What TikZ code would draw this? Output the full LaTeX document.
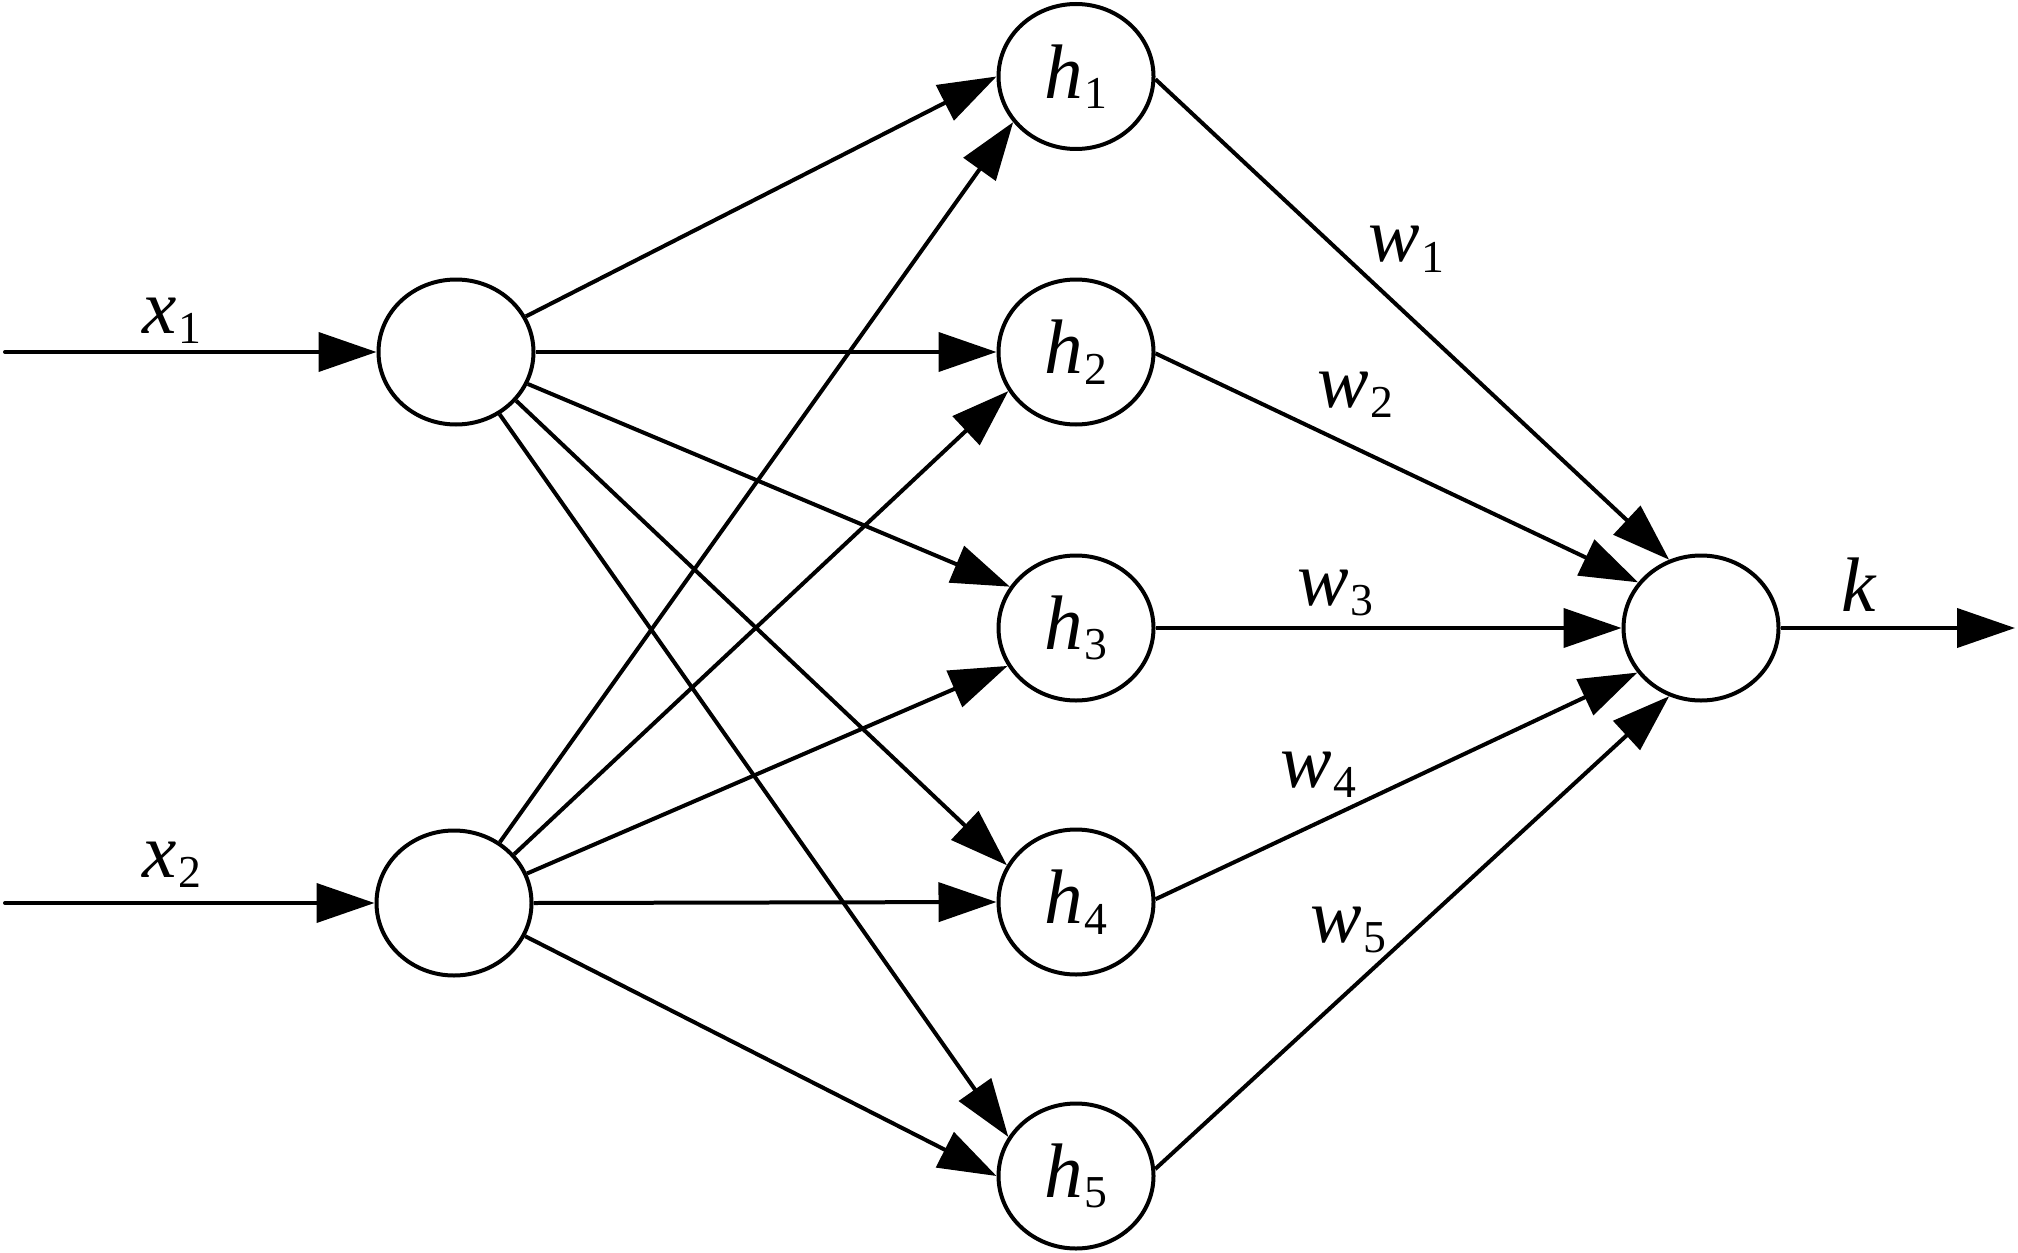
\documentclass[tikz,border=0pt]{standalone}
\usepackage{fontspec}
\setmainfont{Liberation Serif}
\usetikzlibrary{arrows.meta,shapes.geometric}
\newcommand{\sublab}[2]{\textit{#1}\kern0.6pt\raisebox{-3pt}{\fontsize{13}{13}\selectfont #2}}
\begin{document}
\begin{tikzpicture}[
  line width=0.04cm,
  neuron/.style={draw, ellipse, minimum width=1.55cm, minimum height=1.45cm, inner sep=0pt, fill=white},
  conn/.style={-{Triangle[length=5.8mm,width=3.9mm]}},
  lab/.style={inner sep=0pt, anchor=base west, font=\fontsize{22}{22}\selectfont}
]
\useasboundingbox (0,0) rectangle (20.18,-12.53);
\begin{scope}[font=\fontsize{22}{22}\selectfont]
\node[neuron] (i1) at (4.56,-3.52) {};
\node[neuron] (i2) at (4.54,-9.03) {};
\node[neuron] (h1) at (10.76,-0.765) {\sublab{h}{1}};
\node[neuron] (h2) at (10.76,-3.52) {\sublab{h}{2}};
\node[neuron] (h3) at (10.76,-6.28) {\sublab{h}{3}};
\node[neuron] (h4) at (10.76,-9.02) {\sublab{h}{4}};
\node[neuron] (h5) at (10.76,-11.76) {\sublab{h}{5}};
\node[neuron] (o) at (17.01,-6.28) {};
\end{scope}
\coordinate (in1) at (0.05,-3.52);
\coordinate (in2) at (0.05,-9.03);
\coordinate (out) at (20.15,-6.28);

\draw[conn, line cap=round] (in1) -- (i1.west);
\draw[conn, line cap=round] (in2) -- (i2.west);
\draw[conn] (o.east) -- (out);

\draw[conn] (i1.27.6) -- (h1.180);
\draw[conn] (i1.0) -- (h2.180);
\draw[conn] (i1.-24) -- (h3.148.4);
\draw[conn] (i1.-39.5) -- (h4.152);
\draw[conn] (i1.-55) -- (h5.150);

\draw[conn] (i2.53.5) -- (h1.216.3);
\draw[conn] (i2.39.3) -- (h2.210.4);
\draw[conn] (i2.22.9) -- (h3.209.5);
\draw[conn] (i2.0) -- (h4.180);
\draw[conn] (i2.-25) -- (h5.180);

\draw[conn] (h1.-2) -- (o.115);
\draw[conn] (h2.-1) -- (o.144);
\draw[conn] (h3.0) -- (o.180);
\draw[conn] (h4.2) -- (o.215);
\draw[conn] (h5.5) -- (o.245);

\node[lab] (lx1) at (1.40,-3.33) {\sublab{x}{1}};
\node[lab] (lx2) at (1.40,-8.77) {\sublab{x}{2}};
\node[lab] (lw1) at (13.66,-2.62) {\sublab{w}{1}};
\node[lab] (lw2) at (13.15,-4.07) {\sublab{w}{2}};
\node[lab] (lw3) at (12.95,-6.05) {\sublab{w}{3}};
\node[lab] (lw4) at (12.78,-7.87) {\sublab{w}{4}};
\node[lab] (lw5) at (13.08,-9.42) {\sublab{w}{5}};
\node[lab] (lk) at (18.39,-6.11) {\textit{k}};
\end{tikzpicture}
\end{document}
